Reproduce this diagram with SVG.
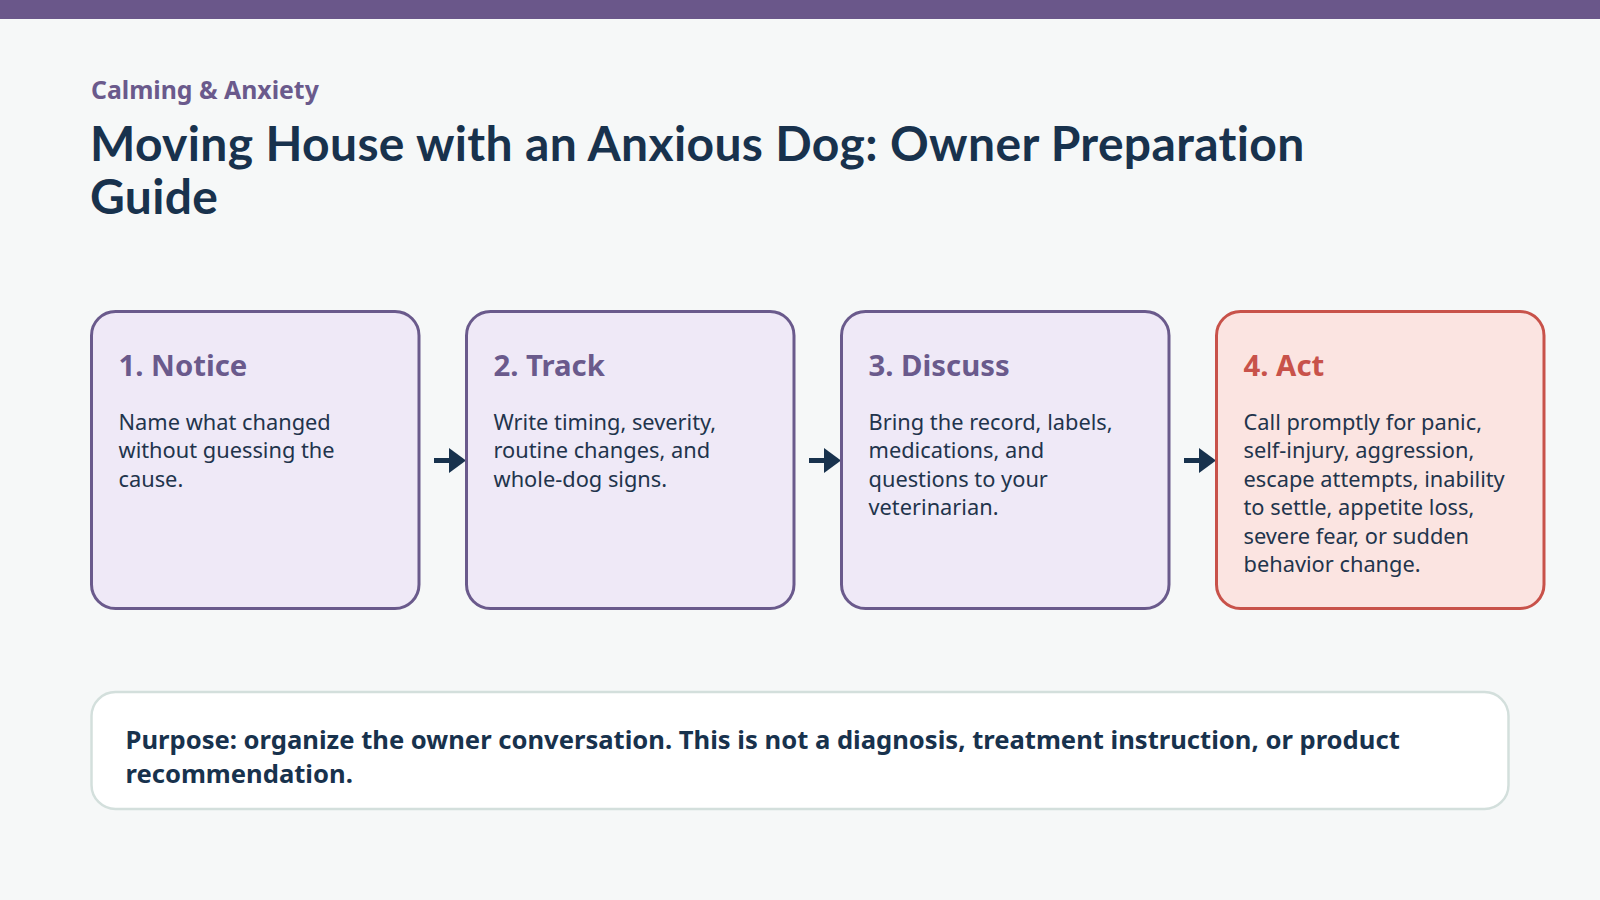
<svg xmlns="http://www.w3.org/2000/svg" width="1600" height="900" viewBox="0 0 1600 900">
  <style>
    .sub { font-family: "Noto Sans", Lato, sans-serif; font-weight: 700; font-size: 24.8px; fill: #6A5A8C; }
    .title { font-family: Lato, "Noto Sans", sans-serif; font-weight: 700; font-size: 48px; letter-spacing: 0.35px; fill: #18324D; }
    .card { fill: #EFE9F7; stroke: #6A5A8C; stroke-width: 3; }
    .card.alert { fill: #FBE4E1; stroke: #C8524A; }
    .ctitle { font-family: "Noto Sans", Lato, sans-serif; font-weight: 700; font-size: 29.3px; fill: #6A5A8C; }
    .ctitle.alert { fill: #C8524A; }
    .body { font-family: "Noto Sans", Lato, sans-serif; font-size: 21.8px; fill: #22344C; }
    .note { fill: #FFFFFF; stroke: #D3DFDC; stroke-width: 2.5; }
    .notetext { font-family: "Noto Sans", Lato, sans-serif; font-weight: 700; font-size: 25.6px; fill: #18324D; }
    .conn { stroke: #18324D; stroke-width: 5; fill: none; }
  </style>
  <defs>
    <marker id="head" markerUnits="userSpaceOnUse" markerWidth="18" markerHeight="26" refX="0" refY="12.5" orient="auto">
      <path d="M0,0 L17,12.5 L0,25 Z" fill="#18324D"/>
    </marker>
  </defs>
  <rect x="0" y="0" width="1600" height="900" fill="#F6F8F8"/>
  <rect x="0" y="0" width="1600" height="19" fill="#6A578A"/>

  <g id="header">
    <text class="sub" x="91" y="99">Calming &amp; Anxiety</text>
    <text class="title" x="90" y="161">Moving House with an Anxious Dog: Owner Preparation</text>
    <text class="title" x="90" y="214">Guide</text>
  </g>

  <g id="connectors">
    <line class="conn" x1="434" y1="460.5" x2="449" y2="460.5" marker-end="url(#head)"/>
    <line class="conn" x1="809" y1="460.5" x2="824" y2="460.5" marker-end="url(#head)"/>
    <line class="conn" x1="1184" y1="460.5" x2="1199" y2="460.5" marker-end="url(#head)"/>
  </g>

  <g id="node-notice">
    <rect class="card" x="91.5" y="311.5" width="327.5" height="297" rx="24"/>
    <text class="ctitle" x="118.5" y="376">1. Notice</text>
    <text class="body" x="118.5" y="429.5">Name what changed</text>
    <text class="body" x="118.5" y="458">without guessing the</text>
    <text class="body" x="118.5" y="486.5">cause.</text>
  </g>

  <g id="node-track">
    <rect class="card" x="466.5" y="311.5" width="327.5" height="297" rx="24"/>
    <text class="ctitle" x="493.5" y="376">2. Track</text>
    <text class="body" x="493.5" y="429.5">Write timing, severity,</text>
    <text class="body" x="493.5" y="458">routine changes, and</text>
    <text class="body" x="493.5" y="486.5">whole-dog signs.</text>
  </g>

  <g id="node-discuss">
    <rect class="card" x="841.5" y="311.5" width="327.5" height="297" rx="24"/>
    <text class="ctitle" x="868.5" y="376">3. Discuss</text>
    <text class="body" x="868.5" y="429.5">Bring the record, labels,</text>
    <text class="body" x="868.5" y="458">medications, and</text>
    <text class="body" x="868.5" y="486.5">questions to your</text>
    <text class="body" x="868.5" y="515">veterinarian.</text>
  </g>

  <g id="node-act">
    <rect class="card alert" x="1216.5" y="311.5" width="327.5" height="297" rx="24"/>
    <text class="ctitle alert" x="1243.5" y="376">4. Act</text>
    <text class="body" x="1243.5" y="429.5">Call promptly for panic,</text>
    <text class="body" x="1243.5" y="458">self-injury, aggression,</text>
    <text class="body" x="1243.5" y="486.5">escape attempts, inability</text>
    <text class="body" x="1243.5" y="515">to settle, appetite loss,</text>
    <text class="body" x="1243.5" y="543.5">severe fear, or sudden</text>
    <text class="body" x="1243.5" y="572">behavior change.</text>
  </g>

  <g id="node-purpose">
    <rect class="note" x="91.5" y="692" width="1417" height="117" rx="24"/>
    <text class="notetext" x="125.5" y="749">Purpose: organize the owner conversation. This is not a diagnosis, treatment instruction, or product</text>
    <text class="notetext" x="125.5" y="783">recommendation.</text>
  </g>
</svg>
